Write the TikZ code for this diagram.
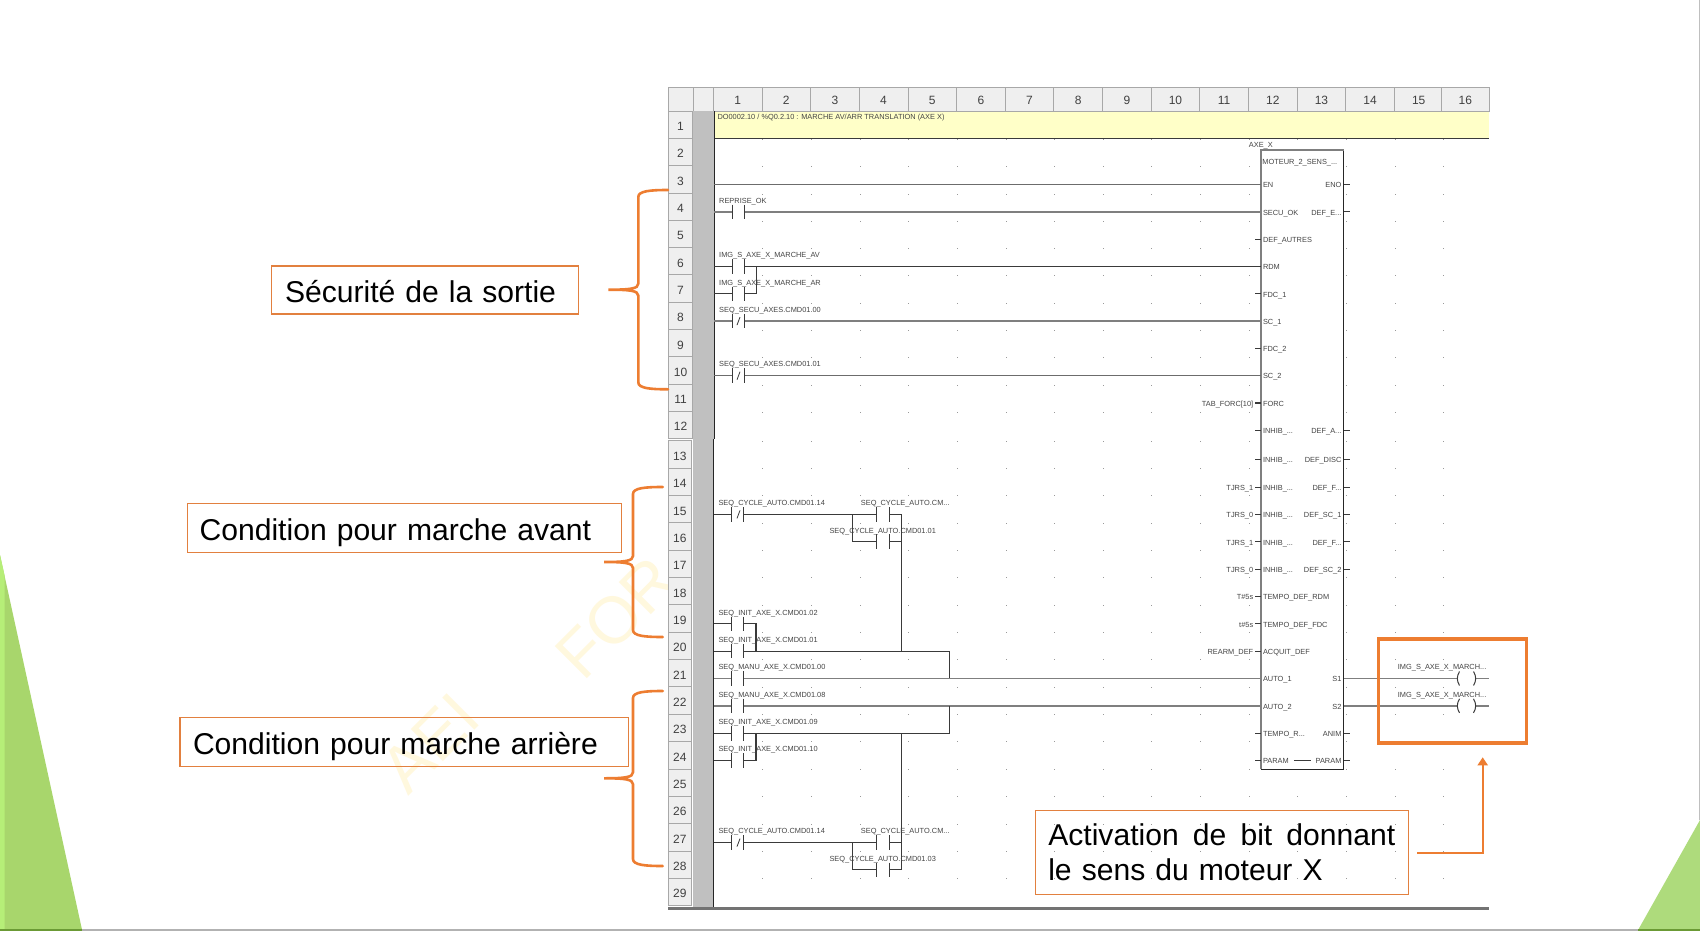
\documentclass[tikz,border=0pt]{standalone}
\usepackage{fontspec}
\setmainfont{Liberation Sans}
\usetikzlibrary{arrows.meta}
\definecolor{boxorange}{HTML}{E2803F}
\definecolor{strongorange}{HTML}{ED7D31}
\definecolor{wmark}{HTML}{FFF8DE}
\definecolor{labcol}{HTML}{454545}
\definecolor{cellfill}{HTML}{EFEFEF}
\definecolor{cellline}{HTML}{A8A8A8}
\definecolor{barfill}{HTML}{C0C0C0}
\definecolor{notefill}{HTML}{FFFFC8}
\definecolor{wiredark}{HTML}{3A3A3A}
\definecolor{wiregray}{HTML}{7F7F7F}
\definecolor{greenmain}{HTML}{A8D66C}
\definecolor{greenlight}{HTML}{B6EE78}
\definecolor{greenright}{HTML}{AEDB7C}
\definecolor{greendark}{HTML}{6B9A35}
\tikzset{
  x=1pt,y=-1pt,
  hdr/.style={draw=cellline,fill=cellfill,line width=.8pt,inner sep=0pt,outer sep=0pt,text=black!75,font=\fontsize{12}{14}\selectfont,text height=11.5pt,text depth=0pt},
  lab/.style={inner sep=0pt,text=labcol,font=\fontsize{7.4}{9}\selectfont,text height=8pt,text depth=1.5pt},
  wdark/.style={draw=wiredark,line width=1.05pt},
  wgray/.style={draw=wiregray,line width=1.4pt},
  plate/.style={draw=wiredark,line width=1pt},
  callout/.style={draw=boxorange,line width=1.5pt,inner ysep=0pt,align=left,text=black,outer sep=0pt,font=\fontsize{30.1}{35}\selectfont},
  curly/.style={draw=strongorange,line width=2.6pt,line cap=round},
  wm/.style={text=wmark,inner sep=0pt,font=\fontsize{66}{70}\selectfont,rotate=45,anchor=base west}
}
% contact: left plate x, right plate x, row
\newcommand\kont[3]{%
  \draw[plate] (#1|-L#3) ++(0,-7.3) -- ++(0,14.6);
  \draw[plate] (#2|-L#3) ++(0,-7.3) -- ++(0,14.6);}
\newcommand\kslash[1]{\draw[draw=wiredark,line width=.8pt] (738,0|-L#1) ++(-1,4) -- ++(3,-8);}
\newcommand\ctlab[4]{\path (L#2) ++(#1,#3) node[lab,anchor=west] (ct#2x#1) {#4};}
\newcommand\pinL[2]{%
  \draw[wdark] (S#1) -- (B#1);
  \path (B#1) ++(1.8,0) node[lab,anchor=west] (pl#1) {#2};}
\newcommand\pinR[2]{%
  \draw[wdark] (R#1) -- ++(6,0);
  \path (R#1) ++(-2.4,0) node[lab,anchor=east] (pr#1) {#2};}
\newcommand\pinX[2]{\path (S#1) ++(-1.6,0) node[lab,anchor=east] (px#1) {#2};}
\newcommand\curlybrace[6]{% xv xend xtip ytop ytip ybot
  \draw[curly] (#2,#4) .. controls (#1+12,#4) and (#1,#4+1) .. (#1,#4+7) -- (#1,#5-6)
    .. controls (#1,#5-1) and (#1-8,#5) .. (#3,#5)
    .. controls (#1-8,#5) and (#1,#5+1) .. (#1,#5+6) -- (#1,#6-7)
    .. controls (#1,#6-1) and (#1+12,#6) .. (#2,#6);}
\newcommand\coilsym[1]{%
  \draw[plate] (Ca|-L#1) ++(2,-7) to[bend right=32] ++(0,14);
  \draw[plate] (Cb|-L#1) ++(-2,-7) to[bend left=32] ++(0,14);}
\begin{document}
\begin{tikzpicture}
\useasboundingbox (0,0) rectangle (1700,931);
\fill[white] (0,0) rectangle (1700,931);
% slide decoration
\fill[greenmain] (0,555) -- (82.3,931) -- (0,931) -- cycle;
\fill[greenlight] (0,555) -- (4.5,575) -- (4.5,931) -- (0,931) -- cycle;
\fill[greenright] (1700,820) -- (1700,931) -- (1637.5,931) -- cycle;
\fill[black!30] (0,928.6) rectangle (1700,931);
\fill[greendark] (0,928.6) rectangle (82,931);
\fill[greendark] (1638,928.6) rectangle (1700,931);
\fill[black!25] (1698.6,0) rectangle (1700,820);
% watermark
\node[wm] (wmA) at (408,797) {AEI};
\node[wm] (wmB) at (583,683) {FOR};
% grid dots
\foreach \k in {1,...,15}{
  \foreach \j in {2,...,12}{
    \fill[black!40] ({713.6+48.65*\k},{111.6+27.3*(\j-1)}) rectangle ++(1,1);}
  \foreach \j in {13,...,29}{
    \fill[black!40] ({713.6+48.65*\k},{440.6+27.35*(\j-13)}) rectangle ++(1,1);}
}
% note band
\fill[notefill] (714,111) rectangle (1489,138.3);
\draw[draw=wiredark,line width=1pt] (714,111) -- (1489,111);
\draw[draw=wiredark,line width=.9pt] (714,138.3) -- (1489,138.3);
\node[lab,anchor=west] (note) at (717.3,116.3) {DO0002.10 / \%Q0.2.10 : MARCHE AV/ARR TRANSLATION (AXE X)};
% headers
\node[hdr,minimum width=25pt,minimum height=24pt] (corner1) at (680.5,99) {};
\node[hdr,minimum width=20.3pt,minimum height=24pt] (corner2) at (703.15,99) {};
\foreach \i in {1,...,15}{
  \node[hdr,minimum width=48.65pt,minimum height=24pt] (c\i) at ({713.3+48.65*(\i-0.5)},99) {\i};}
\node[hdr,minimum width=47.4pt,minimum height=24pt] (c16) at (1465.3,99) {16};
\fill[barfill] (693,111) rectangle (713.5,907);
\foreach \i in {1,...,12}{
  \pgfmathsetmacro\yy{111+27.3*(\i-1)}
  \node[hdr,text height=12pt,minimum width=24.5pt,minimum height=27.3pt] (r\i) at (680.5,{\yy+13.65}) {\i};
  \coordinate (L\i) at (714,{\yy+19});}
\foreach \i in {13,...,29}{
  \pgfmathsetmacro\yy{440.7+27.35*(\i-13)}
  \node[hdr,text height=12pt,minimum width=23.5pt,minimum height=27.35pt] (r\i) at (679.8,{\yy+13.67}) {\i};
  \coordinate (L\i) at (714,{\yy+19});}
\foreach \i in {1,...,29}{
  \coordinate (B\i) at (1261,0|-L\i);
  \coordinate (S\i) at (1255,0|-L\i);
  \coordinate (R\i) at (1344,0|-L\i);}
% rail and frame
\draw[draw=black!85,line width=1.5pt] (714.7,111) -- (714.7,439);
\draw[draw=black!85,line width=1.5pt] (713.7,439) -- (713.7,907);
\fill[black!55] (668,906.7) rectangle (1489,910);
% x columns
\coordinate (Ua) at (732,0); \coordinate (Ub) at (744.7,0); \coordinate (Uc) at (756.7,0);
\coordinate (Xa) at (731,0); \coordinate (Xb) at (743.7,0); \coordinate (Xc) at (756,0);
\coordinate (Xd) at (852.7,0); \coordinate (Xe) at (876.7,0); \coordinate (Xf) at (889.3,0);
\coordinate (Xg) at (901.3,0); \coordinate (Xh) at (949.7,0);
\coordinate (Xi) at (1489,0); \coordinate (Ca) at (1457.5,0); \coordinate (Cb) at (1475.5,0);
% block
\node[draw=none,fill=white,minimum width=82.7pt,minimum height=619.3pt,inner sep=0pt,outer sep=0pt] (fb) at (1302.35,459.65) {};
\draw[draw=black!85,line width=1.1pt] (fb.north east) -- (fb.south east) -- (fb.south west);
\draw[draw=wiregray,line width=1.7pt] (fb.south west) -- (fb.north west) -- (fb.north east);
\node[lab,anchor=west] (fbname) at (1248.7,144) {AXE\_X};
\node[lab,anchor=west] (fbtype) at (1262.2,161.7) {MOTEUR\_2\_SENS\_...};
% upper rungs
\draw[draw=wiregray!85!black,line width=1.2pt] (L3) -- (B3);
\draw[wgray] (L4) -- (Ua|-L4); \draw[wgray] (Ub|-L4) -- (B4);
\kont{Ua}{Ub}{4}
\ctlab{5}{4}{-12}{REPRISE\_OK}
\draw[wdark] (L6) -- (Ua|-L6); \draw[wdark] (Ub|-L6) -- (B6);
\kont{Ua}{Ub}{6}
\ctlab{5}{6}{-12}{IMG\_S\_AXE\_X\_MARCHE\_AV}
\draw[wdark] (L7) -- (Ua|-L7); \draw[wdark] (Ub|-L7) -- (Uc|-L7) -- (Uc|-L6);
\kont{Ua}{Ub}{7}
\ctlab{5}{7}{-12}{IMG\_S\_AXE\_X\_MARCHE\_AR}
\draw[wgray] (L8) -- (Ua|-L8); \draw[wgray] (Ub|-L8) -- (B8);
\kont{Ua}{Ub}{8}
\kslash{8}
\ctlab{5}{8}{-12}{SEQ\_SECU\_AXES.CMD01.00}
\draw[draw=wiregray!85!black,line width=1.2pt] (L10) -- (Ua|-L10); \draw[draw=wiregray!85!black,line width=1.2pt] (Ub|-L10) -- (B10);
\kont{Ua}{Ub}{10}
\kslash{10}
\ctlab{5}{10}{-12}{SEQ\_SECU\_AXES.CMD01.01}
% rung 15-16
\draw[wdark] (L15) -- (Xa|-L15); \draw[wdark] (Xb|-L15) -- (Xe|-L15); \draw[wdark] (Xf|-L15) -- (Xg|-L15);
\kont{Xa}{Xb}{15}\kslash{15}
\kont{Xe}{Xf}{15}
\ctlab{4.3}{15}{-12}{SEQ\_CYCLE\_AUTO.CMD01.14}
\ctlab{146.7}{15}{-12}{SEQ\_CYCLE\_AUTO.CM...}
\draw[wdark] (Xd|-L15) -- (Xd|-L16) -- (Xe|-L16); \draw[wdark] (Xf|-L16) -- ([xshift=1pt]Xg|-L16);
\kont{Xe}{Xf}{16}
\ctlab{115.3}{16}{-11.5}{SEQ\_CYCLE\_AUTO.CMD01.01}
\draw[wdark] (Xg|-L15) -- (Xg|-L20);
% rung 19-21
\draw[wdark] (L19) -- (Xa|-L19); \draw[wdark] (Xb|-L19) -- (Xc|-L19) -- (Xc|-L20);
\kont{Xa}{Xb}{19}
\ctlab{4.3}{19}{-12}{SEQ\_INIT\_AXE\_X.CMD01.02}
\draw[wdark] (L20) -- (Xa|-L20); \draw[wdark] (Xb|-L20) -- (Xh|-L20) -- (Xh|-L21);
\kont{Xa}{Xb}{20}
\ctlab{4.3}{20}{-12}{SEQ\_INIT\_AXE\_X.CMD01.01}
\draw[wgray] (L21) -- (Xa|-L21); \draw[wgray] (Xb|-L21) -- (B21);
\kont{Xa}{Xb}{21}
\ctlab{4.3}{21}{-12}{SEQ\_MANU\_AXE\_X.CMD01.00}
% rung 22-24
\draw[wgray] (L22) -- (Xa|-L22); \draw[wgray] (Xb|-L22) -- (B22);
\kont{Xa}{Xb}{22}
\ctlab{4.3}{22}{-12}{SEQ\_MANU\_AXE\_X.CMD01.08}
\draw[wdark] (L23) -- (Xa|-L23); \draw[wdark] (Xb|-L23) -- (Xh|-L23) -- (Xh|-L22);
\kont{Xa}{Xb}{23}
\ctlab{4.3}{23}{-12}{SEQ\_INIT\_AXE\_X.CMD01.09}
\draw[wdark] (L24) -- (Xa|-L24); \draw[wdark] (Xb|-L24) -- (Xc|-L24) -- (Xc|-L23);
\kont{Xa}{Xb}{24}
\ctlab{4.3}{24}{-12}{SEQ\_INIT\_AXE\_X.CMD01.10}
\draw[wdark] (Xg|-L23) -- (Xg|-L28);
% rung 27-28
\draw[wdark] (L27) -- (Xa|-L27); \draw[wdark] (Xb|-L27) -- (Xe|-L27); \draw[wdark] (Xf|-L27) -- ([xshift=1pt]Xg|-L27);
\kont{Xa}{Xb}{27}\kslash{27}
\kont{Xe}{Xf}{27}
\ctlab{4.3}{27}{-12}{SEQ\_CYCLE\_AUTO.CMD01.14}
\ctlab{146.7}{27}{-12}{SEQ\_CYCLE\_AUTO.CM...}
\draw[wdark] (Xd|-L27) -- (Xd|-L28) -- (Xe|-L28); \draw[wdark] (Xf|-L28) -- (Xg|-L28);
\kont{Xe}{Xf}{28}
\ctlab{115.3}{28}{-11.5}{SEQ\_CYCLE\_AUTO.CMD01.03}
% pins
\path (B3) ++(1.8,0) node[lab,anchor=west] (pl3) {EN};
\path (B4) ++(1.8,0) node[lab,anchor=west] (pl4) {SECU\_OK};
\pinL{5}{DEF\_AUTRES}
\path (B6) ++(1.8,0) node[lab,anchor=west] (pl6) {RDM};
\pinL{7}{FDC\_1}
\path (B8) ++(1.8,0) node[lab,anchor=west] (pl8) {SC\_1};
\pinL{9}{FDC\_2}
\path (B10) ++(1.8,0) node[lab,anchor=west] (pl10) {SC\_2};
\pinL{11}{FORC}
\pinL{12}{INHIB\_...}
\pinL{13}{INHIB\_...}
\pinL{14}{INHIB\_...}
\pinL{15}{INHIB\_...}
\pinL{16}{INHIB\_...}
\pinL{17}{INHIB\_...}
\pinL{18}{TEMPO\_DEF\_RDM}
\pinL{19}{TEMPO\_DEF\_FDC}
\pinL{20}{ACQUIT\_DEF}
\path (B21) ++(1.8,0) node[lab,anchor=west] (pl21) {AUTO\_1};
\path (B22) ++(1.8,0) node[lab,anchor=west] (pl22) {AUTO\_2};
\pinL{23}{TEMPO\_R...}
\pinL{24}{PARAM}
\pinR{3}{ENO}
\pinR{4}{DEF\_E...}
\pinR{12}{DEF\_A...}
\pinR{13}{DEF\_DISC}
\pinR{14}{DEF\_F...}
\pinR{15}{DEF\_SC\_1}
\pinR{16}{DEF\_F...}
\pinR{17}{DEF\_SC\_2}
\path (R21) ++(-2.4,0) node[lab,anchor=east] (pr21) {S1};
\path (R22) ++(-2.4,0) node[lab,anchor=east] (pr22) {S2};
\pinR{23}{ANIM}
\pinR{24}{PARAM}
\draw[wdark] (pl24.east) ++(5,0) -- ++(17.4,0);
\pinX{11}{TAB\_FORC[10]}
\pinX{14}{TJRS\_1}
\pinX{15}{TJRS\_0}
\pinX{16}{TJRS\_1}
\pinX{17}{TJRS\_0}
\pinX{18}{T\#5s}
\pinX{19}{t\#5s}
\pinX{20}{REARM\_DEF}
% coils
\draw[wgray] (R21) -- (Ca|-L21); \draw[wgray] (Cb|-L21) -- (Xi|-L21);
\draw[wgray] (R22) -- (Ca|-L22); \draw[wgray] (Cb|-L22) -- (Xi|-L22);
\coilsym{21}
\coilsym{22}
\path (Xi|-L21) ++(-91.3,-12) node[lab,anchor=west] (coil1) {IMG\_S\_AXE\_X\_MARCH...};
\path (Xi|-L22) ++(-91.3,-12) node[lab,anchor=west] (coil2) {IMG\_S\_AXE\_X\_MARCH...};
% callouts
\node[draw=strongorange,line width=3.3pt,minimum width=148pt,minimum height=104pt,inner sep=0pt,outer sep=0pt] (redbox) at (1452.5,691) {};
\node[callout,inner xsep=13.3pt,text width=280pt,minimum height=48pt,text height=26pt,text depth=2pt] (secu) at (425,290) {Sécurité de la sortie};
\node[callout,inner xsep=12.1pt,text width=409.7pt,minimum height=48.6pt,text height=26pt,text depth=2pt] (avant) at (404.45,528) {Condition pour marche avant};
\node[callout,inner xsep=13pt,text width=422.6pt,minimum height=48.6pt,text height=26pt,text depth=2pt] (arriere) at (404.3,742) {Condition pour marche arrière};
\node[callout,inner xsep=13pt,text width=347pt,minimum height=83.6pt,text height=23.6pt,text depth=38pt] (act) at (1221.8,852.5) {\hbox to 347pt{Activation\hfill\ de\hfill\ bit\hfill\ donnant}\\le sens du moteur X};
\coordinate (arrowend) at (1482.7,757.3);
\draw[draw=strongorange,line width=2pt,shorten <=8.7pt,-{Triangle[length=8pt,width=10pt]}] (act.east) -| (arrowend);
% braces
\curlybrace{638.3}{668}{608.3}{190}{289.7}{389.3}
\curlybrace{633}{662.7}{604}{487}{562}{637}
\curlybrace{633}{662.7}{604}{691}{778.3}{866}
\end{tikzpicture}
\end{document}
